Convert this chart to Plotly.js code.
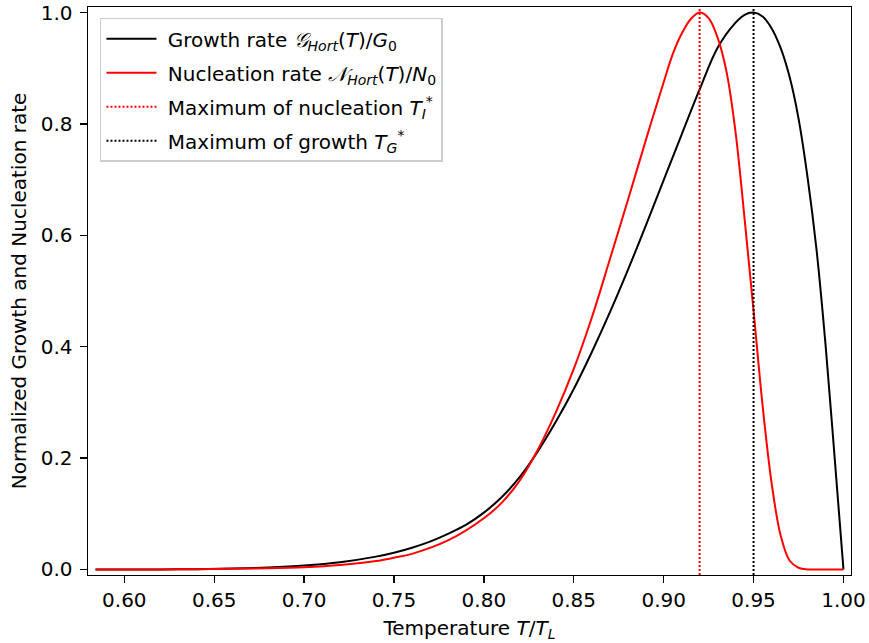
<!DOCTYPE html>
<html>
<head>
<meta charset="utf-8">
<script src="https://cdn.plot.ly/plotly-3.0.1.min.js"></script>
<style>
  html, body { margin: 0; padding: 0; background: #ffffff; }
  #chart { width: 869px; height: 643px; }
</style>
</head>
<body>
<div id="chart"></div>
<script>
// Reduced temperature T/T_L
const tGrowth = [0.584, 0.60, 0.62, 0.64, 0.66, 0.68, 0.70, 0.72, 0.74, 0.75, 0.76, 0.77, 0.78, 0.79,
  0.80, 0.81, 0.82, 0.83, 0.84, 0.85, 0.86, 0.87, 0.88, 0.89, 0.90, 0.91, 0.92, 0.93, 0.94, 0.945,
  0.95, 0.955, 0.96, 0.965, 0.97, 0.975, 0.98, 0.985, 0.99, 0.995, 1.0];
// Normalized growth rate G_Hort(T)/G0
const growthRate = [0.0, 0.0, 0.0001, 0.0005, 0.0015, 0.0035, 0.007, 0.013, 0.023, 0.030, 0.039, 0.050, 0.064, 0.080,
  0.102, 0.130, 0.166, 0.212, 0.265, 0.324, 0.390, 0.461, 0.537, 0.617, 0.699, 0.781, 0.862, 0.937, 0.982, 0.996,
  1.0, 0.993, 0.972, 0.937, 0.885, 0.810, 0.705, 0.575, 0.405, 0.205, 0.0];

const tNucleation = [0.584, 0.60, 0.62, 0.64, 0.66, 0.68, 0.70, 0.72, 0.74, 0.75, 0.76, 0.78, 0.80, 0.81,
  0.82, 0.83, 0.84, 0.85, 0.86, 0.87, 0.88, 0.89, 0.90, 0.905, 0.91, 0.915, 0.92, 0.925, 0.93, 0.935,
  0.94, 0.945, 0.95, 0.955, 0.96, 0.965, 0.97, 0.975, 0.98, 0.99, 1.0];
// Normalized nucleation rate N_Hort(T)/N0
const nucleationRate = [0.0, 0.0, 0.0, 0.0003, 0.001, 0.002, 0.004, 0.008, 0.015, 0.021, 0.028, 0.052, 0.092, 0.120,
  0.160, 0.215, 0.282, 0.360, 0.452, 0.556, 0.662, 0.770, 0.875, 0.925, 0.962, 0.988, 1.0, 0.990, 0.955, 0.893,
  0.785, 0.630, 0.465, 0.295, 0.156, 0.062, 0.016, 0.003, 0.0, 0.0, 0.0];

// Temperatures of the two maxima
const tMaxNucleation = 0.92;
const tMaxGrowth = 0.95;

const xRange = [0.5798, 1.0042];
const yRange = [-0.01, 1.01];

const xTicks = [0.60, 0.65, 0.70, 0.75, 0.80, 0.85, 0.90, 0.95, 1.00];
const xTickText = ['0.60', '0.65', '0.70', '0.75', '0.80', '0.85', '0.90', '0.95', '1.00'];
const yTicks = [0.0, 0.2, 0.4, 0.6, 0.8, 1.0];
const yTickText = ['0.0', '0.2', '0.4', '0.6', '0.8', '1.0'];

const FONT = 'DejaVu Sans, sans-serif';
const GAP = '\u00a0';

const traces = [
  {
    x: tGrowth, y: growthRate, type: 'scatter', mode: 'lines', legendgroup: 'g',
    name: GAP + 'Growth rate <i>𝒢<sub>Hort</sub></i>(<i>T</i>)/<i>G</i><sub>0</sub>',
    line: { color: '#000000', width: 2, shape: 'spline', smoothing: 1 }
  },
  {
    x: tNucleation, y: nucleationRate, type: 'scatter', mode: 'lines', legendgroup: 'n',
    name: GAP + 'Nucleation rate <i>𝒩<sub>Hort</sub></i>(<i>T</i>)/<i>N</i><sub>0</sub>',
    line: { color: '#ff0000', width: 2, shape: 'spline', smoothing: 1 }
  },
  {
    x: [tMaxNucleation, tMaxNucleation], y: yRange, type: 'scatter', mode: 'lines', legendgroup: 'tn',
    name: GAP + 'Maximum of nucleation <i>T</i><sub><i>I</i></sub><sup>*</sup>',
    line: { color: '#ff0000', width: 2, dash: '2px,2px' }
  },
  {
    x: [tMaxGrowth, tMaxGrowth], y: yRange, type: 'scatter', mode: 'lines', legendgroup: 'tg',
    name: GAP + 'Maximum of growth <i>T</i><sub><i>G</i></sub><sup>*</sup>',
    line: { color: '#000000', width: 2, dash: '2px,2px' }
  }
];

const axisCommon = {
  showgrid: false, zeroline: false, showline: true, mirror: true,
  linecolor: '#000000', linewidth: 1.4,
  ticks: 'outside', ticklen: 7, tickwidth: 1.4, tickcolor: '#000000',
  tickfont: { family: FONT, size: 20, color: '#000000' }
};

const layout = {
  width: 869, height: 643,
  margin: { l: 88, r: 18, t: 7, b: 68, pad: 0 },
  paper_bgcolor: '#ffffff', plot_bgcolor: '#ffffff',
  font: { family: FONT, color: '#000000' },
  showlegend: true,
  legend: {
    x: 0.0157, y: 0.981, xanchor: 'left', yanchor: 'top',
    bgcolor: 'rgba(255,255,255,0.8)', bordercolor: '#cccccc', borderwidth: 1.5,
    font: { family: FONT, size: 20, color: '#000000' },
    itemwidth: 50, traceorder: 'grouped', tracegroupgap: 5
  },
  xaxis: Object.assign({}, axisCommon, {
    range: xRange, tickvals: xTicks, ticktext: xTickText,
    title: { text: 'Temperature <i>T</i>/<i>T</i><sub><i>L</i></sub>', font: { family: FONT, size: 20 }, standoff: 9 }
  }),
  yaxis: Object.assign({}, axisCommon, {
    range: yRange, tickvals: yTicks, ticktext: yTickText, ticklabelstandoff: 3,
    title: { text: 'Normalized Growth and Nucleation rate', font: { family: FONT, size: 20 }, standoff: 8 }
  })
};

Plotly.newPlot('chart', traces, layout, { displayModeBar: false, staticPlot: true });
</script>
</body>
</html>
